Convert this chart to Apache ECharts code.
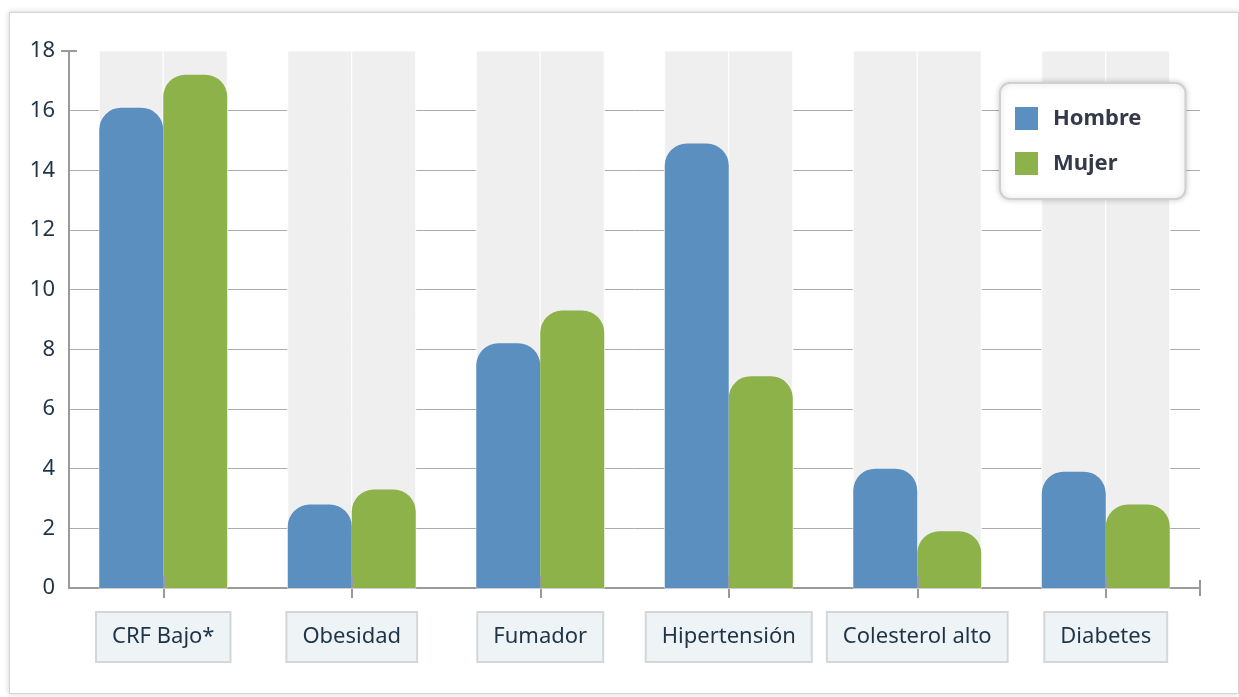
<!DOCTYPE html>
<html>
<head>
<meta charset="utf-8">
<script src="https://cdn.jsdelivr.net/npm/echarts@6/dist/echarts.min.js"></script>
<style>
  html, body { margin: 0; padding: 0; background: #fff; }
  #frame {
    position: absolute; left: 9px; top: 12px; width: 1228px; height: 680px;
    border: 1px solid #d4d4d4; box-shadow: 0 0 6px rgba(0,0,0,0.18); background: #fff;
  }
  #chart { position: absolute; left: 0; top: 0; width: 1239px; height: 697px; }
</style>
</head>
<body>
<div id="frame"></div>
<div id="chart"></div>
<script>
const categories = ["CRF Bajo*", "Obesidad", "Fumador", "Hipertensión", "Colesterol alto", "Diabetes"];
const hombre = [16.1, 2.8, 8.2, 14.9, 4.0, 3.9];
const mujer = [17.2, 3.3, 9.3, 7.1, 1.9, 2.8];
const yTicks = { min: 0, max: 18, interval: 2 };

const font = "'Noto Sans', 'Open Sans', sans-serif";
const chart = echarts.init(document.getElementById("chart"));

const barStyle = (color) => ({
  color: color,
  borderRadius: [22, 22, 0, 0],
});

chart.setOption({
  animation: false,
  backgroundColor: "transparent",
  grid: { left: 69, right: 39, top: 51, bottom: 109 },
  legend: {
    orient: "vertical",
    left: 1000,
    top: 83,
    padding: [24, 44, 24, 15],
    itemGap: 22,
    itemWidth: 23,
    itemHeight: 23,
    icon: "rect",
    backgroundColor: "#fff",
    borderColor: "#d0d0d0",
    borderWidth: 2,
    borderRadius: 10,
    shadowBlur: 6,
    shadowColor: "rgba(0,0,0,0.18)",
    textStyle: { fontFamily: font, fontSize: 22, fontWeight: "bold", color: "#343a48", padding: [0, 0, 0, 10] },
    data: ["Hombre", "Mujer"],
  },
  xAxis: [
    {
      type: "category",
      data: categories,
      position: "bottom",
      axisLine: {
        lineStyle: { color: "#9a9a9a", width: 2 },
        symbol: ["none", "rect"],
        symbolSize: [16, 2],
      },
      axisTick: { show: true, interval: 0, alignWithLabel: true, length: 10, lineStyle: { color: "#9a9a9a", width: 2 } },
      axisLabel: {
        interval: 0,
        margin: 25,
        fontFamily: font,
        fontSize: 22,
        color: "#1f3447",
        backgroundColor: "#eef3f6",
        borderColor: "#d3d7da",
        borderWidth: 2,
        padding: [13, 15],
      },
    },
    {
      type: "category",
      data: categories,
      position: "bottom",
      z: 10,
      axisLine: { show: false },
      axisTick: { show: true, interval: 0, inside: true, alignWithLabel: true, length: 12, lineStyle: { color: "#9a9a9a", width: 2 } },
      axisLabel: { show: false },
    },
  ],
  yAxis: {
    type: "value",
    min: yTicks.min,
    max: yTicks.max,
    interval: yTicks.interval,
    axisLine: {
      show: true,
      lineStyle: { color: "#9a9a9a", width: 2 },
      symbol: ["none", "rect"],
      symbolSize: [16, 2],
    },
    axisTick: { show: false },
    axisLabel: { margin: 14, fontFamily: font, fontSize: 22, color: "#1f3447" },
    splitLine: {
      show: true,
      lineStyle: { color: "#ababab", width: 1 },
      showMinLine: false,
      showMaxLine: false,
    },
  },
  series: [
    {
      name: "Hombre",
      type: "bar",
      data: hombre,
      barWidth: 64,
      barGap: "0%",
      itemStyle: barStyle("#5a8fc0"),
      showBackground: true,
      backgroundStyle: { color: "#efefef", borderColor: "#fff", borderWidth: 1 },
    },
    {
      name: "Mujer",
      type: "bar",
      data: mujer,
      barWidth: 64,
      itemStyle: barStyle("#8cb249"),
      showBackground: true,
      backgroundStyle: { color: "#efefef", borderColor: "#fff", borderWidth: 1 },
    },
  ],
});
</script>
</body>
</html>
